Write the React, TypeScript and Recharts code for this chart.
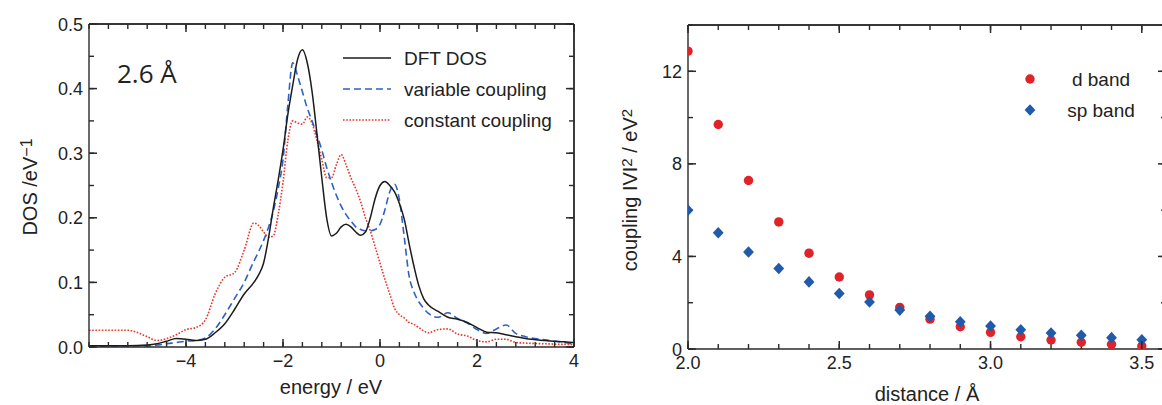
import React from "react";
import { LineChart, Line, ScatterChart, Scatter, XAxis, YAxis, ReferenceLine } from "recharts";

// ---- left panel: DOS at 2.6 Å ----
const energies = [
  -6, -5.6, -5.2, -4.8, -4.6, -4.4, -4.2, -4.0, -3.8, -3.6, -3.4, -3.2, -3.0, -2.8, -2.6, -2.5,
  -2.4, -2.3, -2.2, -2.1, -2.0, -1.9, -1.8, -1.7, -1.6, -1.5, -1.4, -1.3, -1.2, -1.1, -1.0, -0.9,
  -0.8, -0.7, -0.6, -0.5, -0.4, -0.3, -0.2, -0.1, 0, 0.1, 0.2, 0.3, 0.4, 0.5, 0.6, 0.7, 0.8, 0.9,
  1.0, 1.2, 1.4, 1.6, 1.8, 2.0, 2.2, 2.4, 2.6, 2.8, 3.0, 3.4, 3.8, 4.0,
];
const dftDos = [
  0.002, 0.002, 0.002, 0.003, 0.005, 0.009, 0.013, 0.012, 0.01, 0.012, 0.022, 0.036, 0.058, 0.082, 0.1, 0.112,
  0.13, 0.168, 0.215, 0.258, 0.305, 0.36, 0.405, 0.445, 0.46, 0.44, 0.395, 0.33, 0.262, 0.2, 0.172, 0.176,
  0.186, 0.19, 0.186, 0.178, 0.173, 0.178, 0.2, 0.23, 0.25, 0.256, 0.25, 0.24, 0.222, 0.198, 0.16, 0.125, 0.095, 0.075,
  0.065, 0.055, 0.046, 0.043, 0.038, 0.03, 0.023, 0.022, 0.019, 0.016, 0.013, 0.01, 0.008, 0.007,
];
const variableCoupling = [
  0.001, 0.001, 0.002, 0.002, 0.003, 0.005, 0.007, 0.009, 0.01, 0.014, 0.028, 0.05, 0.075, 0.1, 0.133, 0.148,
  0.165, 0.185, 0.21, 0.245, 0.29, 0.375, 0.44, 0.42, 0.395, 0.37, 0.35, 0.328, 0.305, 0.278, 0.255, 0.235,
  0.218, 0.205, 0.195, 0.186, 0.182, 0.18, 0.18, 0.182, 0.19, 0.212, 0.24, 0.252, 0.228, 0.17, 0.11, 0.085, 0.07, 0.06,
  0.052, 0.046, 0.053, 0.044, 0.037, 0.027, 0.021, 0.028, 0.034, 0.021, 0.016, 0.011, 0.007, 0.004,
];
const constantCoupling = [
  0.026, 0.026, 0.026, 0.016, 0.01, 0.013, 0.019, 0.027, 0.03, 0.042, 0.082, 0.108, 0.115, 0.15, 0.192, 0.188,
  0.178, 0.17, 0.172, 0.205, 0.255, 0.32, 0.35, 0.347, 0.345, 0.356, 0.346, 0.32, 0.29, 0.262, 0.262, 0.282,
  0.298, 0.282, 0.262, 0.245, 0.225, 0.2, 0.18, 0.155, 0.13, 0.105, 0.082, 0.06, 0.05, 0.045, 0.038, 0.035, 0.03, 0.025,
  0.022, 0.027, 0.028, 0.02, 0.017, 0.01, 0.008, 0.012, 0.012, 0.007, 0.006, 0.005, 0.004, 0.004,
];

const energyTicks = [
  -6, -5.6, -5.2, -4.8, -4.4, -4, -3.6, -3.2, -2.8, -2.4, -2, -1.6, -1.2, -0.8, -0.4, 0, 0.4, 0.8, 1.2,
  1.6, 2, 2.4, 2.8, 3.2, 3.6, 4,
];
const energyLabels = [-4, -2, 0, 2, 4];
const dosTicks = [0, 0.05, 0.1, 0.15, 0.2, 0.25, 0.3, 0.35, 0.4, 0.45, 0.5];
const dosLabels = [0, 0.1, 0.2, 0.3, 0.4, 0.5];

// ---- right panel: coupling vs distance ----
const distances = [2.0, 2.1, 2.2, 2.3, 2.4, 2.5, 2.6, 2.7, 2.8, 2.9, 3.0, 3.1, 3.2, 3.3, 3.4, 3.5];
const dBand = [12.87, 9.7, 7.28, 5.49, 4.14, 3.11, 2.34, 1.8, 1.29, 0.96, 0.72, 0.53, 0.39, 0.29, 0.2, 0.13];
const spBand = [6.0, 5.02, 4.19, 3.48, 2.9, 2.4, 2.03, 1.68, 1.41, 1.18, 0.99, 0.83, 0.69, 0.59, 0.49, 0.4];

const distTicks = [2.0, 2.1, 2.2, 2.3, 2.4, 2.5, 2.6, 2.7, 2.8, 2.9, 3.0, 3.1, 3.2, 3.3, 3.4, 3.5];
const distLabels = [2.0, 2.5, 3.0, 3.5];
const couplingTicks = [0, 2, 4, 6, 8, 10, 12, 14];
const couplingLabels = [0, 4, 8, 12];

const FONT = "'Liberation Sans', Arial, Helvetica, sans-serif";
const AXIS = "#2a2a2a";
const TEXT = "#222";
const BLACK = "#1c1c1c";
const BLUE = "#2d62c4";
const RED = "#e5362a";
const BLUE_PT = "#1f5aab";
const RED_PT = "#e02229";

const dosRows = energies.map((e, i) => ({
  e,
  dft: dftDos[i],
  variable: variableCoupling[i],
  constant: constantCoupling[i],
}));
const dPoints = distances.map((x, i) => ({ x, y: dBand[i] }));
const spPoints = distances.map((x, i) => ({ x, y: spBand[i] }));

const minus = (s: string) => s.replace("-", "\u2212");

// built-in tick lines point inward (negative size, margin compensates),
// the custom tick lengthens the majors and writes labels on bottom/left
const IN = { tickSize: -5, tickMargin: 5, tickLine: { stroke: AXIS, strokeWidth: 1.4 }, axisLine: { stroke: AXIS, strokeWidth: 1.4 } };

function frameTick(side: "bottom" | "top" | "left" | "right", majors: number[], fmt?: (v: number) => string) {
  return (props: any) => {
    const x = Number(props.x);
    const y = Number(props.y);
    const v = Number(props.payload && props.payload.value);
    const isMajor = majors.some((m) => Math.abs(m - v) < 1e-9);
    let d = "";
    if (isMajor) {
      if (side === "bottom") d = `M${x},${y}V${y - 8}`;
      if (side === "top") d = `M${x},${y}V${y + 8}`;
      if (side === "left") d = `M${x},${y}H${x + 8}`;
      if (side === "right") d = `M${x},${y}H${x - 8}`;
    }
    let label = null;
    if (fmt && isMajor) {
      if (side === "bottom")
        label = (
          <text x={x} y={y + 20} textAnchor="middle" fontSize={18} fontFamily={FONT} fill={TEXT}>
            {fmt(v)}
          </text>
        );
      if (side === "left")
        label = (
          <text x={x - 6} y={y + 6.5} textAnchor="end" fontSize={18} fontFamily={FONT} fill={TEXT}>
            {fmt(v)}
          </text>
        );
    }
    return (
      <g>
        {d && <path d={d} stroke={AXIS} strokeWidth={1.5} fill="none" />}
        {label}
      </g>
    );
  };
}

function DosChart() {
  return (
    <LineChart width={590} height={405} data={dosRows} margin={{ top: 23, right: 15, bottom: 0, left: 0 }}>
      <XAxis
        dataKey="e"
        type="number"
        domain={[-6, 4]}
        allowDataOverflow
        ticks={energyTicks}
        interval={0}
        height={58}
        {...IN}
        tick={frameTick("bottom", energyLabels, (v) => minus(String(v)))}
      />
      <XAxis
        xAxisId="top"
        orientation="top"
        dataKey="e"
        type="number"
        domain={[-6, 4]}
        allowDataOverflow
        ticks={energyTicks}
        interval={0}
        height={1}
        {...IN}
        tick={frameTick("top", energyLabels)}
      />
      <YAxis
        type="number"
        domain={[0, 0.5]}
        allowDataOverflow
        ticks={dosTicks}
        interval={0}
        width={89}
        {...IN}
        tick={frameTick("left", dosLabels, (v) => v.toFixed(1))}
      />
      <YAxis
        yAxisId="right"
        orientation="right"
        type="number"
        domain={[0, 0.5]}
        allowDataOverflow
        ticks={dosTicks}
        interval={0}
        width={1}
        {...IN}
        tick={frameTick("right", dosLabels)}
      />
      {/* frame edges */}
      <ReferenceLine y={0.5} stroke={AXIS} strokeWidth={1.4} ifOverflow="visible" />
      <ReferenceLine x={4} stroke={AXIS} strokeWidth={1.4} ifOverflow="visible" />
      {/* keeps the mirrored axes tied to data */}
      <Line xAxisId="top" yAxisId="right" dataKey="dft" stroke="none" dot={false} activeDot={false} isAnimationActive={false} />
      <Line type="monotone" dataKey="constant" stroke={RED} strokeWidth={1.6} strokeDasharray="1.6 1.6" dot={false} isAnimationActive={false} />
      <Line type="monotone" dataKey="variable" stroke={BLUE} strokeWidth={1.6} strokeDasharray="7 4" dot={false} isAnimationActive={false} />
      <Line type="monotone" dataKey="dft" stroke={BLACK} strokeWidth={1.5} dot={false} isAnimationActive={false} />
    </LineChart>
  );
}

const RedDot = (p: any) => <circle cx={p.cx} cy={p.cy} r={4.7} fill={RED_PT} />;
const BlueDiamond = (p: any) => (
  <polygon
    points={`${p.cx},${p.cy - 5.8} ${p.cx + 5.4},${p.cy} ${p.cx},${p.cy + 5.8} ${p.cx - 5.4},${p.cy}`}
    fill={BLUE_PT}
  />
);

function CouplingChart() {
  return (
    <ScatterChart width={600} height={405} margin={{ top: 24, right: 33, bottom: 0, left: 0 }}>
      <XAxis
        dataKey="x"
        type="number"
        domain={[2.0, 3.58]}
        allowDataOverflow
        ticks={distTicks}
        interval={0}
        height={56}
        {...IN}
        tick={frameTick("bottom", distLabels, (v) => v.toFixed(1))}
      />
      <XAxis
        xAxisId="top"
        orientation="top"
        dataKey="x"
        type="number"
        domain={[2.0, 3.58]}
        allowDataOverflow
        ticks={distTicks}
        interval={0}
        height={1}
        {...IN}
        tick={frameTick("top", distLabels)}
      />
      <YAxis
        dataKey="y"
        type="number"
        domain={[0, 14]}
        allowDataOverflow
        ticks={couplingTicks}
        interval={0}
        width={88}
        {...IN}
        tick={frameTick("left", couplingLabels, (v) => String(v))}
      />
      <YAxis
        yAxisId="right"
        orientation="right"
        dataKey="y"
        type="number"
        domain={[0, 14]}
        allowDataOverflow
        ticks={couplingTicks}
        interval={0}
        width={1}
        {...IN}
        tick={frameTick("right", couplingLabels)}
      />
      <ReferenceLine y={14} stroke={AXIS} strokeWidth={1.4} ifOverflow="visible" />
      <Scatter xAxisId="top" yAxisId="right" data={spPoints} shape={() => <g />} isAnimationActive={false} />
      <Scatter name="d band" data={dPoints} shape={RedDot} isAnimationActive={false} />
      <Scatter name="sp band" data={spPoints} shape={BlueDiamond} isAnimationActive={false} />
    </ScatterChart>
  );
}

// titles, legends and the "2.6 Å" label; painted underneath the charts
function Annotations() {
  const t = { fontFamily: FONT, fill: TEXT };
  return (
    <svg width={1162} height={405} style={{ position: "absolute", left: 0, top: 0 }}>
      <text x={117} y={83} fontSize={26} fontFamily="'Open Sans', sans-serif" fill={TEXT}>
        2.6 Å
      </text>
      <line x1={343} y1={58} x2={391} y2={58} stroke={BLACK} strokeWidth={1.5} />
      <line x1={343} y1={89} x2={391} y2={89} stroke={BLUE} strokeWidth={1.6} strokeDasharray="7 4" />
      <line x1={343} y1={120} x2={391} y2={120} stroke={RED} strokeWidth={1.6} strokeDasharray="1.6 1.6" />
      <text x={404} y={65} fontSize={19} {...t}>DFT DOS</text>
      <text x={404} y={96} fontSize={19} {...t}>variable coupling</text>
      <text x={404} y={127} fontSize={19} {...t}>constant coupling</text>
      <text x={331} y={394} fontSize={20} textAnchor="middle" {...t}>energy / eV</text>
      <text x={37} y={187} fontSize={20} textAnchor="middle" transform="rotate(-90 37 187)" {...t}>
        DOS /eV<tspan dy={-5} fontSize={16}>−1</tspan>
      </text>

      <circle cx={1030} cy={79} r={4.7} fill={RED_PT} />
      <polygon points="1030,104.2 1035.4,110 1030,115.8 1024.6,110" fill={BLUE_PT} />
      <text x={1101} y={86} fontSize={19} textAnchor="middle" {...t}>d band</text>
      <text x={1101} y={117} fontSize={19} textAnchor="middle" {...t}>sp band</text>
      <text x={927} y={401} fontSize={20} textAnchor="middle" {...t}>distance / Å</text>
      <text x={637} y={190} fontSize={20} textAnchor="middle" transform="rotate(-90 637 190)" {...t}>
        coupling IVI<tspan dy={-5} fontSize={15}>2</tspan>
        <tspan dy={5}> / eV</tspan>
        <tspan dy={-5} fontSize={15}>2</tspan>
      </text>
    </svg>
  );
}

export default function App() {
  return (
    <div
      style={{
        position: "absolute",
        left: 0,
        top: 0,
        width: 1162,
        height: 405,
        overflow: "hidden",
        background: "#fff",
      }}
    >
      <Annotations />
      <div style={{ position: "absolute", left: 0, top: 0 }}>
        <DosChart />
      </div>
      <div style={{ position: "absolute", left: 600, top: 0 }}>
        <CouplingChart />
      </div>
    </div>
  );
}
